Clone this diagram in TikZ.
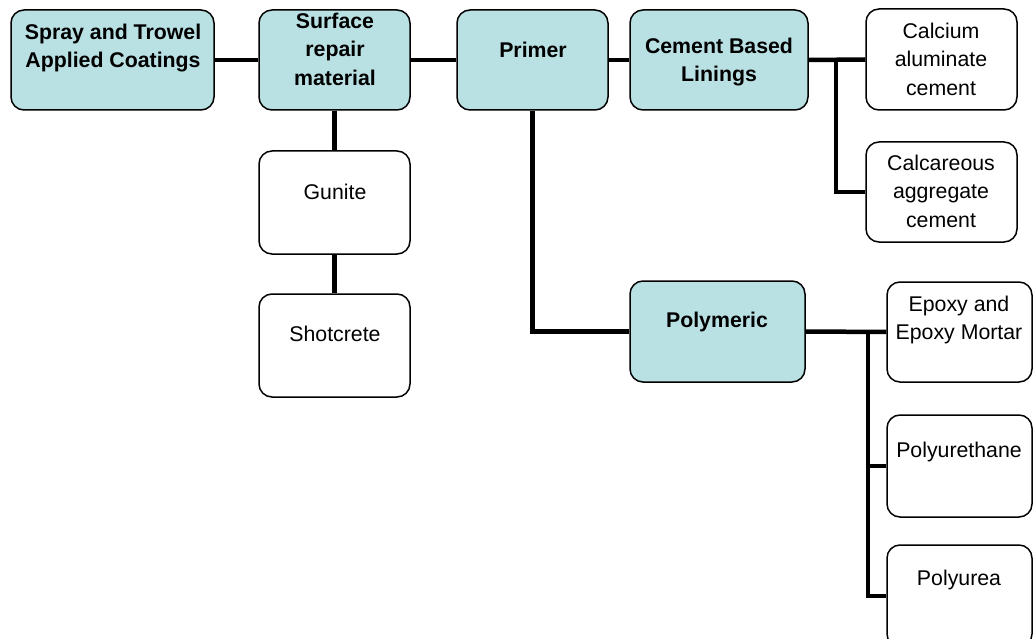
\documentclass[tikz,border=0pt]{standalone}
\usepackage{fontspec}
\setmainfont{Liberation Sans}
\definecolor{boxteal}{RGB}{185,224,227}
\begin{document}
\begin{tikzpicture}[x=1pt,y=-1pt,
  box/.style={draw=black,line width=1.5pt,rounded corners=13pt,inner sep=0pt,minimum width=#1},
  hibox/.style={box=#1,fill=boxteal},
  txt/.style={align=center,inner sep=0pt,font=\fontsize{21.3}{28.5}\selectfont},
  btxt/.style={txt,font=\fontsize{21.3}{28.5}\selectfont\bfseries},
  conn/.style={line width=4.5pt,line cap=butt}]
\useasboundingbox (0,0) rectangle (1033,639);
\clip (0,0) rectangle (1033,639);
% boxes
\node[hibox=203pt,minimum height=100pt] (spray) at (112.5,60) {};
\node[hibox=151pt,minimum height=100pt] (surf) at (334.5,60) {};
\node[hibox=151pt,minimum height=100pt] (primer) at (532.5,60) {};
\node[hibox=178pt,minimum height=100pt] (cement) at (719,60) {};
\node[box=151pt,minimum height=101pt] (calc1) at (941.5,59.5) {};
\node[box=151pt,minimum height=100pt] (calc2) at (941.5,192) {};
\node[box=151pt,minimum height=103pt] (gunite) at (334.5,202.5) {};
\node[box=151pt,minimum height=103pt] (shot) at (334.5,345.5) {};
\node[hibox=175pt,minimum height=101pt] (poly) at (717.5,331.5) {};
\node[box=145pt,minimum height=100pt] (epoxy) at (959.5,332) {};
\node[box=145pt,minimum height=102pt] (pu) at (959.5,466) {};
\node[box=145pt,minimum height=102pt] (purea) at (959.5,596) {};
% texts
\node[btxt] (tspray) at (113,48) {Spray and Trowel\\Applied Coatings};
\node[btxt] (tsurf) at (335,49) {Surface\\repair\\material};
\node[btxt] (tprimer) at (533,50) {Primer};
\node[btxt] (tcement) at (719,62) {Cement Based\\Linings};
\node[txt] (tcalc1) at (941,59) {Calcium\\aluminate\\cement};
\node[txt] (tcalc2) at (941,191) {Calcareous\\aggregate\\cement};
\node[txt] (tgunite) at (335,192) {Gunite};
\node[txt] (tshot) at (335,334) {Shotcrete};
\node[btxt] (tpoly) at (717,322) {Polymeric};
\node[txt] (tepoxy) at (959,320) {Epoxy and\\Epoxy Mortar};
\node[txt] (tpu) at (959,452) {Polyurethane};
\node[txt] (tpurea) at (959,580) {Polyurea};
% connectors
\draw[conn] (spray.east) -- (surf.west);
\draw[conn] (surf.east) -- (primer.west);
\draw[conn,line width=3.5pt] (primer.east) -- (cement.west);
\draw[conn] (surf.south) -- (gunite.north);
\draw[conn] (gunite.south) -- (shot.north);
\draw[conn] (cement.east) -- (calc1.west);
\coordinate (bus1) at (836,60);
\draw[conn] (bus1) |- (calc2.west);
\draw[conn] (primer.south) |- (poly.west);
\draw[conn] (poly.east) -- (epoxy.west);
\coordinate (bus2) at (868,332);
\draw[conn] (bus2) |- (purea.west);
\draw[conn] (bus2|-pu.west) -- (pu.west);
\end{tikzpicture}
\end{document}
